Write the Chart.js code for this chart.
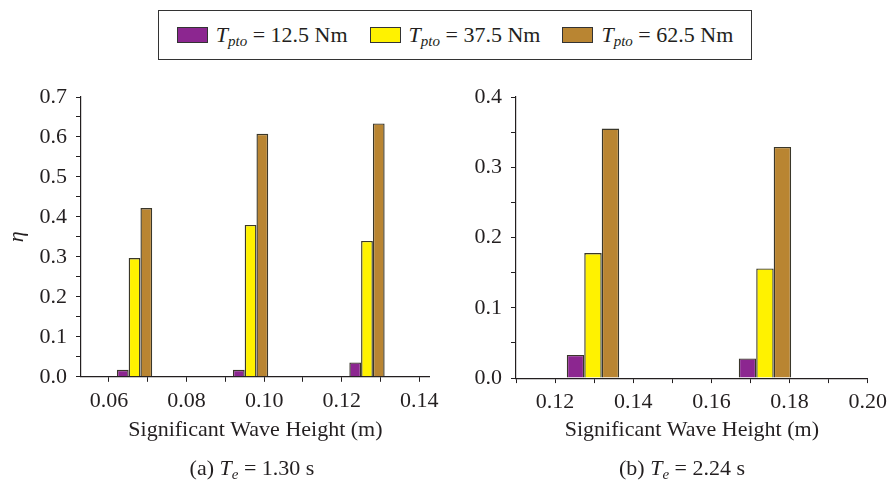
<!DOCTYPE html>
<html>
<head>
<meta charset="utf-8">
<script src="https://cdn.jsdelivr.net/npm/chart.js@4/dist/chart.umd.min.js"></script>
<style>
  html, body { margin: 0; padding: 0; background: #fff; }
  body { width: 893px; height: 485px; position: relative; overflow: hidden; font-family: 'Liberation Serif', 'Times New Roman', serif; color: #231f20; }
  canvas { position: absolute; top: 0; }
  #cA { left: 0; }
  #cB { left: 445px; }
  #legend { position: absolute; left: 158px; top: 10px; width: 592px; height: 48px; border: 1.5px solid #333; display: flex; align-items: center; justify-content: center; gap: 22px; font-size: 22px; z-index: 2; background: #fff; }
  .item { display: flex; align-items: center; gap: 8px; white-space: nowrap; }
  .sw { width: 29px; height: 14px; border: 1px solid #333; }
  .cap { position: absolute; top: 455px; font-size: 22px; white-space: nowrap; transform: translateX(-50%); line-height: 26px; }
  i sub { font-size: 15px; }
  sub { vertical-align: -4px; line-height: 0; }
</style>
</head>
<body>
<div id="legend"></div>
<canvas id="cA" width="445" height="485"></canvas>
<canvas id="cB" width="448" height="485"></canvas>
<div class="cap" id="capA" style="left:252px"></div>
<div class="cap" id="capB" style="left:682px"></div>
<script>
// ---- data ----
const torqueLabels = ['12.5', '37.5', '62.5'];
const seriesColors = ['#8c2690', '#fff200', '#b98532'];

const heightsA = [0.0666, 0.0965, 0.1265];
const etaA_12_5 = [0.0175, 0.0175, 0.036];
const etaA_37_5 = [0.297, 0.380, 0.340];
const etaA_62_5 = [0.422, 0.608, 0.634];

const heightsB = [0.1297, 0.1737];
const etaB_12_5 = [0.033, 0.028];
const etaB_37_5 = [0.178, 0.156];
const etaB_62_5 = [0.355, 0.329];

const xTickLabelsA = ['0.06', '0.08', '0.10', '0.12', '0.14'];
const xTickLabelsB = ['0.12', '0.14', '0.16', '0.18', '0.20'];
const yTickLabelsA = ['0.0', '0.1', '0.2', '0.3', '0.4', '0.5', '0.6', '0.7'];
const yTickLabelsB = ['0.0', '0.1', '0.2', '0.3', '0.4'];

const periodA = '1.30';
const periodB = '2.24';
const xTitle = 'Significant Wave Height (m)';
const yTitle = 'η';

// ---- legend & captions ----
const leg = document.getElementById('legend');
torqueLabels.forEach((t, i) => {
  const it = document.createElement('div');
  it.className = 'item';
  it.innerHTML = '<div class="sw" style="background:' + seriesColors[i] + '"></div><span><i>T<sub>pto</sub></i> = ' + t + ' Nm</span>';
  leg.appendChild(it);
});
document.getElementById('capA').innerHTML = '(a) <i>T<sub>e</sub></i> = ' + periodA + ' s';
document.getElementById('capB').innerHTML = '(b) <i>T<sub>e</sub></i> = ' + periodB + ' s';

// ---- charts ----
const FONT = { family: "'Liberation Serif', 'Times New Roman', serif", size: 22 };
const INK = '#231f20';

function toXY(xs, ys) { return xs.map((x, i) => ({ x: x, y: ys[i] })); }

function makeChart(id, xs, series, xMin, xMax, yMax, xLabels, yLabels, opts) {
  const datasets = series.map((ys, i) => ({
    label: 'T_pto = ' + torqueLabels[i] + ' Nm',
    data: toXY(xs, ys),
    backgroundColor: seriesColors[i],
    borderColor: '#3a372a',
    borderWidth: 1.4,
    borderSkipped: 'bottom',
    categoryPercentage: opts.catPct,
    barPercentage: 1
  }));
  return new Chart(document.getElementById(id), {
    type: 'bar',
    data: { datasets: datasets },
    options: {
      responsive: false,
      animation: false,
      layout: { padding: { left: opts.padLeft, top: 97, right: opts.padRight, bottom: 42 } },
      plugins: { legend: { display: false }, tooltip: { enabled: false } },
      scales: {
        x: {
          type: 'linear',
          offset: false,
          min: xMin, max: xMax,
          grid: { display: true, drawOnChartArea: false, drawTicks: true, tickLength: 5, color: INK, offset: false },
          border: { display: true, color: INK, width: 1.2 },
          ticks: {
            stepSize: 0.01, includeBounds: false, autoSkip: false, maxRotation: 0, padding: 6,
            color: INK, font: FONT,
            callback: (v) => { const s = Number(v).toFixed(2); return xLabels.includes(s) ? s : ''; }
          },
          title: { display: true, text: xTitle, color: INK, font: FONT, padding: { top: 0, bottom: 0 } },
          afterFit: (s) => { s.height = opts.xH; }
        },
        y: {
          min: 0, max: yMax,
          grid: { display: true, drawOnChartArea: false, drawTicks: true, tickLength: 5, color: INK },
          border: { display: true, color: INK, width: 1.2 },
          ticks: {
            stepSize: 0.05, autoSkip: false, padding: 9, color: INK, font: FONT,
            callback: (v) => { const s = Number(v).toFixed(1); return (Math.abs(v * 10 - Math.round(v * 10)) < 1e-6 && yLabels.includes(s)) ? s : ''; }
          },
          title: { display: opts.yTitle, text: yTitle, color: INK, font: { family: FONT.family, size: 22, style: 'italic' }, padding: { top: 0, bottom: 0 } },
          afterFit: (s) => { s.width = opts.yW; }
        }
      }
    }
  });
}

makeChart('cA', heightsA, [etaA_12_5, etaA_37_5, etaA_62_5], 0.0528, 0.1427, 0.7,
  xTickLabelsA, yTickLabelsA, { catPct: 0.91, padLeft: 4, padRight: 12.7, xH: 66.2, yW: 77, yTitle: true });
makeChart('cB', heightsB, [etaB_12_5, etaB_37_5, etaB_62_5], 0.11, 0.20, 0.4,
  xTickLabelsB, yTickLabelsB, { catPct: 1.34, padLeft: 0, padRight: 21.3, xH: 64.9, yW: 71, yTitle: false });
</script>
</body>
</html>
